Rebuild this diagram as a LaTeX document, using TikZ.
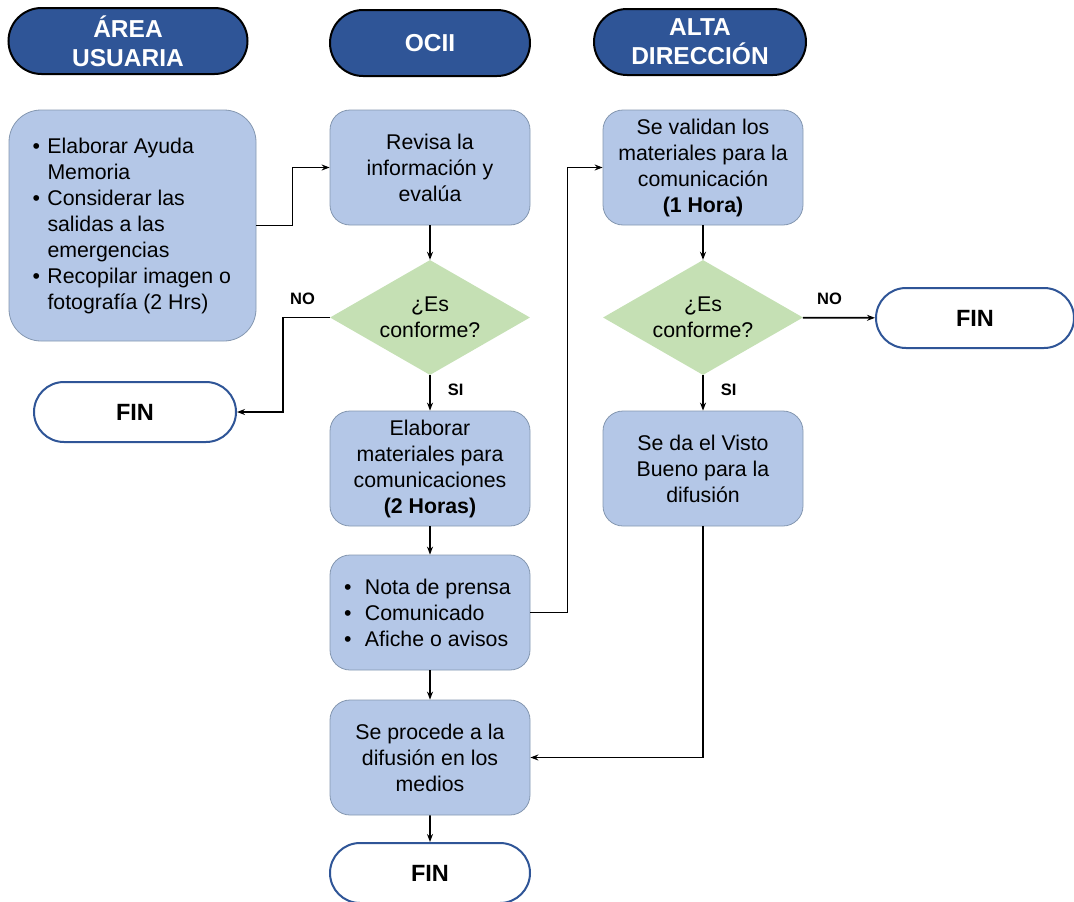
\documentclass[tikz,border=0pt]{standalone}
\usepackage{fontspec}
\setmainfont{Liberation Sans}
\usetikzlibrary{shapes.geometric,shapes.misc,arrows.meta}
\definecolor{hdrblue}{HTML}{2F5597}
\definecolor{boxblue}{HTML}{B4C7E7}
\definecolor{boxline}{HTML}{8497B0}
\definecolor{decgreen}{HTML}{C5E0B4}
\newcommand{\bul}[2][15pt]{\hangindent=#1\hangafter=1\noindent\makebox[#1][l]{\textbullet}#2\par}
\tikzset{
  hdr/.style={rounded rectangle, draw=black, line width=2pt, fill=hdrblue, text=white,
    font=\fontsize{24.5}{29}\selectfont\bfseries, align=center, minimum height=66pt, inner sep=0pt},
  task/.style={rectangle, rounded corners=20pt, draw=boxline, line width=0.8pt, fill=boxblue,
    font=\fontsize{21.3}{26}\selectfont, align=center, minimum width=200pt, minimum height=115pt, inner sep=0pt},
  dec/.style={diamond, aspect=2, fill=decgreen, font=\fontsize{21.3}{26}\selectfont, align=center,
    minimum width=200pt, minimum height=115pt, inner sep=0pt},
  fin/.style={rounded rectangle, draw=hdrblue, line width=2pt, fill=white,
    font=\fontsize{23.5}{29}\selectfont\bfseries, minimum width=200pt, minimum height=60pt, inner sep=0pt},
  lbl/.style={font=\fontsize{16.5}{18}\selectfont\bfseries, inner sep=0pt},
  conn/.style={line width=1.8pt, -{Stealth[length=8pt,width=6pt]}},
}
\begin{document}
\begin{tikzpicture}[x=1pt,y=1pt]
  \useasboundingbox (0,0) rectangle (1074,-902);
  % column headers
  \node[hdr, minimum width=239pt] (hdrusr) at (128,-41) {ÁREA\\USUARIA};
  \node[hdr, minimum width=200pt] (hdrocii) at (430,-43) {OCII};
  \node[hdr, minimum width=212pt] (hdralta) at (700,-42) {ALTA\\DIRECCIÓN};
  % area usuaria
  \node[task, rounded corners=32pt, minimum width=247pt, minimum height=231pt,
    text width=200pt, align=flush left] (usr) at (132.5,-225.5)
    {\bul{Elaborar~Ayuda\newline Memoria}\bul{Considerar~las\newline salidas~a~las\newline emergencias}\bul{Recopilar~imagen~o\newline fotografía~(2~Hrs)}};
  \node[fin, minimum width=202pt] (finl) at (135,-412) {FIN};
  % ocii
  \node[task] (rev) at (430,-167.5) {Revisa la\\información y\\evalúa};
  \node[dec] (dec1) at (430,-317.5) {¿Es\\conforme?};
  \node[task] (elab) at (430,-468.5) {Elaborar\\materiales para\\comunicaciones\\\textbf{(2 Horas)}};
  \node[task, text width=172pt, align=flush left] (nota) at (430,-612.5)
    {\bul[21pt]{Nota~de~prensa}\bul[21pt]{Comunicado}\bul[21pt]{Afiche~o~avisos}};
  \node[task] (proc) at (430,-757.5) {Se procede a la\\difusión en los\\medios};
  \node[fin] (finb) at (430,-873) {FIN};
  % alta direccion
  \node[task] (val) at (703,-167.5) {Se validan los\\materiales para la\\comunicación\\\textbf{(1 Hora)}};
  \node[dec] (dec2) at (703,-317.5) {¿Es\\conforme?};
  \node[fin, minimum width=198pt] (finr) at (975,-318) {FIN};
  \node[task] (vb) at (703,-468.5) {Se da el Visto\\Bueno para la\\difusión};
  % connectors
  \draw[conn] (usr.east) -- ++(36,0) |- (rev.west);
  \draw[conn] (rev) -- (dec1);
  \draw[conn] (dec1.west) -- node[lbl, above=12pt, pos=0.58] (no1) {NO} ++(-47,0) |- (finl.east);
  \draw[conn] (dec1) -- node[lbl, right=17pt, pos=0.4] (si1) {SI} (elab);
  \draw[conn] (elab) -- (nota);
  \draw[conn] (nota.east) -- ++(37,0) |- (val.west);
  \draw[conn] (nota) -- (proc);
  \draw[conn] (proc) -- (finb);
  \draw[conn] (val) -- (dec2);
  \draw[conn] (dec2) -- node[lbl, above=12pt, pos=0.37] (no2) {NO} (finr);
  \draw[conn] (dec2) -- node[lbl, right=17pt, pos=0.4] (si2) {SI} (vb);
  \draw[conn] (vb.south) |- (proc.east);
\end{tikzpicture}
\end{document}
